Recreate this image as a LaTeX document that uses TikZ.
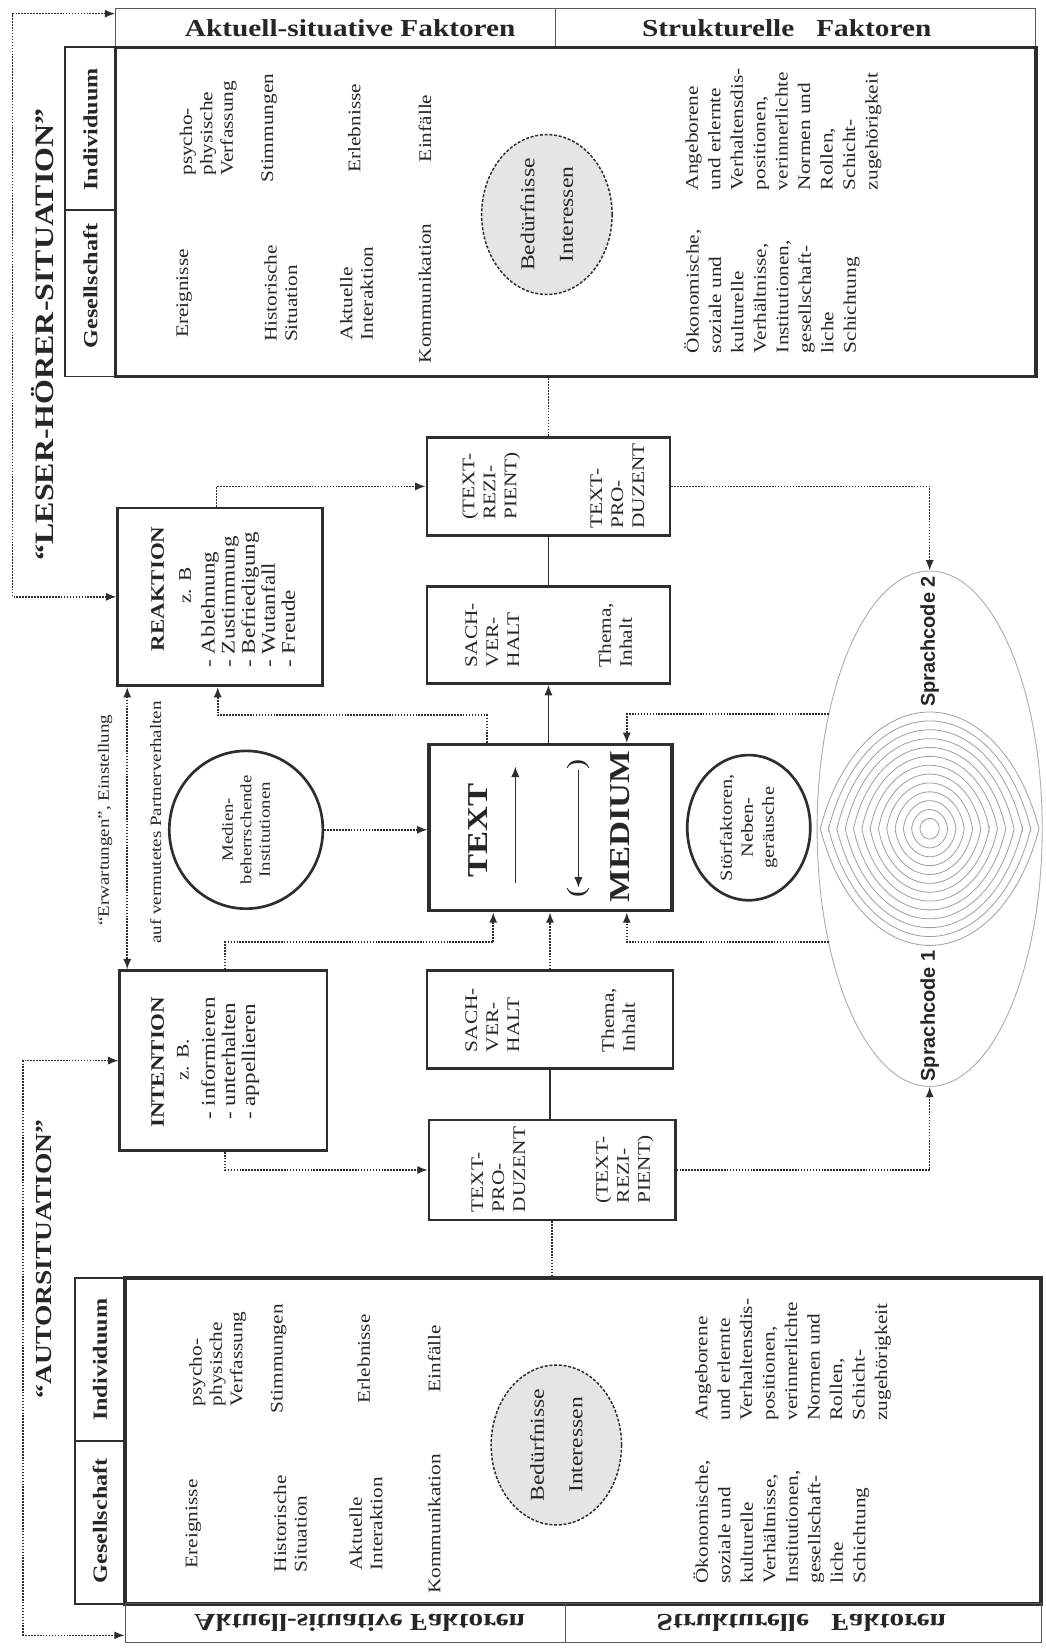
\documentclass[tikz,border=0pt]{standalone}
\usepackage{graphicx}
\usepackage{fontspec}
\setmainfont{Liberation Serif}[FakeStretch=1.2]
\newfontfamily\sprachf{Liberation Sans}
\usetikzlibrary{arrows.meta,fit,shapes.geometric,calc}
\definecolor{ink}{HTML}{262626}
\definecolor{lineg}{HTML}{2E2E2E}
\newcommand\fBody{\fontsize{12}{13.8}\selectfont}
\newcommand\fAng{\fontsize{12}{15.2}\selectfont}
\newcommand\fEll{\fontsize{13.3}{26}\selectfont}
\newcommand\fStrip{\bfseries\fontsize{13.6}{16}\selectfont}
\newcommand\fHead{\bfseries\fontsize{16.5}{19}\selectfont}
\newcommand\fTitle{\bfseries\fontsize{12.9}{15}\selectfont}
\newcommand\fItem{\fontsize{13}{13.6}\selectfont}
\newcommand\fBx{\fontsize{12}{14.2}\selectfont}
\newcommand\fBig{\bfseries\fontsize{19.5}{22}\selectfont}
\newcommand\fMed{\fontsize{10.6}{12.5}\selectfont}
\newcommand\fStoer{\fontsize{11.5}{14.2}\selectfont}
\newcommand\fErw{\fontsize{10.7}{12}\selectfont}
\newcommand\fSpr{\sprachf\bfseries\fontsize{13.5}{16}\selectfont}
\tikzset{
  every node/.style={text=ink},
  rt/.style={rotate=90, inner sep=0pt, align=left},
  rtc/.style={rotate=90, inner sep=0pt, align=center},
  flipped/.style={yscale=-1, transform shape, inner sep=0pt, font=\fHead},
  tip/.style={-{Latex[length=7pt,width=5.5pt]}},
  dtip/.style={{Latex[length=7pt,width=5.5pt]}-{Latex[length=7pt,width=5.5pt]}},
  dotc/.style={draw=lineg, line width=1.1pt, dash pattern=on 1.1pt off 0.9pt},
  thinl/.style={draw=lineg, line width=0.8pt},
  bigbox/.style={draw=lineg, line width=2.4pt, inner sep=0pt},
  midbox/.style={draw=lineg, line width=1.9pt, inner sep=0pt},
  stripbox/.style={draw=lineg, line width=1.2pt, inner sep=0pt},
  thinbox/.style={draw=gray!70!black, line width=0.7pt, inner sep=0pt},
  ring/.style={draw=gray!75, line width=0.55pt},
}
\newcommand\facbox[3]{%
\begin{scope}[shift={(#2,#3)}]
\node[rt, font=\fBody] (#1psy) at (198,122) {psycho-\\physische\\Verfassung};
\node[rt, font=\fBody] (#1sti) at (256,122) {Stimmungen};
\node[rt, font=\fBody] (#1erl) at (337,122) {Erlebnisse};
\node[rt, font=\fBody] (#1ein) at (404,122) {Einfälle};
\node[rt, font=\fBody] (#1ere) at (175,279) {Ereignisse};
\node[rt, font=\fBody] (#1his) at (267,279) {Historische\\Situation};
\node[rt, font=\fBody] (#1akt) at (339,279) {Aktuelle\\Interaktion};
\node[rt, font=\fBody] (#1kom) at (404,279) {Kommunikation};
\node[ellipse, draw=lineg, line width=1pt, dash pattern=on 2pt off 1.2pt, fill=gray!20, minimum width=3.1cm, minimum height=3.8cm, inner sep=0pt] (#1ell) at (520,204) {};
\node[rtc, font=\fEll] (#1bed) at (#1ell) {Bedürfnisse\\Interessen};
\node[rt, font=\fAng, anchor=west] (#1ang) at (745,181) {Angeborene\\und erlernte\\Verhaltensdis-\\positionen,\\verinnerlichte\\Normen und\\Rollen,\\Schicht-\\zugehörigkeit};
\node[rt, font=\fAng, anchor=west] (#1oek) at (734,336) {Ökonomische,\\soziale und\\kulturelle\\Verhältnisse,\\Institutionen,\\gesellschaft-\\liche\\Schichtung};
\end{scope}}
\begin{document}
\begin{tikzpicture}[x=0.025cm,y=-0.025cm]
\fill[white] (0,0) rectangle (994,1568);
\useasboundingbox (0,0) rectangle (994,1568);

% ---------- top section ----------
\node[thinbox, fit={(110,8)(985,45)}] (hdrT) {};
\draw[thinl, draw=gray!70!black, line width=0.7pt] (528,0 |- hdrT.north) -- (528,0 |- hdrT.south);
\node[font=\fHead, inner sep=0pt] (hT1) at (333,27) {Aktuell-situative Faktoren};
\node[font=\fHead, inner sep=0pt] (hT2) at (748,27) {Strukturelle\ \ \ Faktoren};
\node[stripbox, fit={(62,45)(110,358)}] (stT) {};
\draw[stripbox] (62,200) -- (110,200);
\node[bigbox, fit={(110,45)(985,358)}] (boxT) {};
\node[rt, font=\fStrip] (indT) at (86,123) {Individuum};
\node[rt, font=\fStrip] (gesT) at (86,272) {Gesellschaft};
\facbox{T}{0}{0}
\node[rt, font=\bfseries\fontsize{18}{20}\selectfont] (lhs) at (40,318) {“LESER-HÖRER-SITUATION”};

% ---------- bottom section ----------
\node[stripbox, fit={(71,1215)(119,1525)}] (stB) {};
\draw[stripbox] (71,1370) -- (119,1370);
\node[bigbox, fit={(119,1215)(990,1525)}] (boxB) {};
\node[rt, font=\fStrip] (indB) at (95,1293) {Individuum};
\node[rt, font=\fStrip] (gesB) at (95,1446) {Gesellschaft};
\facbox{B}{9}{1170}
\node[thinbox, fit={(119,1525)(990,1562)}] (hdrB) {};
\draw[thinl, draw=gray!70!black, line width=0.7pt] (538,0 |- hdrB.north) -- (538,0 |- hdrB.south);
\node[flipped] (hB1) at (342,1543) {Aktuell-situative Faktoren};
\node[flipped] (hB2) at (762,1543) {Strukturelle\ \ \ Faktoren};
\node[rt, font=\bfseries\fontsize{15.5}{18}\selectfont] (aus) at (42,1197) {“AUTORSITUATION”};

% ---------- REAKTION / INTENTION ----------
\node[midbox, fit={(112,483)(307,652)}] (R) {};
\node[rt, font=\fTitle] (Rt) at (150,560) {REAKTION};
\node[rt, font=\fBody] (Rz) at (176,557) {z. B};
\node[rt, font=\fItem, anchor=west] (Ri) at (236,635) {- Ablehnung\\- Zustimmung\\- Befriedigung\\- Wutanfall\\- Freude};

\node[midbox, fit={(114,923)(311,1094)}] (I) {};
\node[rt, font=\fTitle] (It) at (150,1010) {INTENTION};
\node[rt, font=\fBody] (Iz) at (174,1008) {z. B.};
\node[rt, font=\fItem, anchor=west] (Ii) at (219,1065) {- informieren\\- unterhalten\\- appellieren};

\node[rt, font=\fErw] (erw1) at (100,780) {“Erwartungen”, Einstellung};
\node[rt, font=\fErw] (erw2) at (148,782) {auf vermutetes Partnerverhalten};

\node[ellipse, draw=lineg, line width=1.8pt, minimum width=3.65cm, minimum height=3.75cm, inner sep=0pt] (M) at (234,789) {};
\node[rtc, font=\fMed] (Mt) at (M) {Medien-\\beherrschende\\Institutionen};

% ---------- central column ----------
\node[midbox, fit={(406,416)(637,509)}] (A) {};
\node[rt, font=\fBx] (a1) at (467,462) {(TEXT-\\REZI-\\PIENT)};
\node[rt, font=\fBx] (a2) at (587,462) {TEXT-\\PRO-\\DUZENT};
\node[midbox, fit={(406,558)(637,650)}] (B) {};
\node[rt, font=\fBx] (b1) at (468,604) {SACH-\\VER-\\HALT};
\node[rt, font=\fBx] (b2) at (585,604) {Thema,\\Inhalt};
\node[midbox, line width=2.2pt, fit={(408,708)(639,866)}] (T) {};
\node[rt, font=\fBig] (Tt) at (455,790) {TEXT};
\node[rt, font=\fBig] (Tm) at (590,786) {MEDIUM};
\coordinate (ta1) at (490,840);
\coordinate (ta2) at (490,729);
\draw[thinl, tip] (ta1) -- (ta2);
\node[rt, font=\fontsize{17}{17}\selectfont] (pl) at (550,849) {(};
\node[rt, font=\fontsize{17}{17}\selectfont] (pr) at (550,727) {)};
\draw[thinl, tip] (pr) -- (pl);
\node[midbox, fit={(406,923)(640,1016)}] (C) {};
\node[rt, font=\fBx] (c1) at (468,970) {SACH-\\VER-\\HALT};
\node[rt, font=\fBx] (c2) at (588,970) {Thema,\\Inhalt};
\node[midbox, fit={(408,1065)(642,1160)}] (D) {};
\node[rt, font=\fBx] (d1) at (474,1112) {TEXT-\\PRO-\\DUZENT};
\node[rt, font=\fBx] (d2) at (594,1112) {(TEXT-\\REZI-\\PIENT)};

\node[ellipse, draw=lineg, line width=1.8pt, minimum width=2.925cm, minimum height=3.45cm, inner sep=0pt] (S) at (712,787) {};
\node[rtc, font=\fStoer] (St) at (S) {Störfaktoren,\\Neben-\\geräusche};

% ---------- Sprachcode ----------
\node[ellipse, draw=gray!65, line width=0.6pt, minimum width=5.35cm, minimum height=12.25cm, inner sep=0pt] (SC) at (884,788) {};
\foreach \k in {0,...,12}{
  \pgfmathsetmacro\s{1-0.076*\k}
  \pgfmathsetmacro\dd{67*\s*\s}
  \pgfmathsetmacro\bb{111*\s+\dd}
  \pgfmathsetmacro\tz{asin(\dd/\bb)}
  \pgfmathsetmacro\aa{104*\s/cos(\tz)}
  \pgfmathsetmacro\te{180-\tz}
  \draw[ring] plot[domain=\tz:\te, samples=40] ({884+\aa*cos(\x)},{788+\dd-\bb*sin(\x)})
     -- plot[domain=\te:\tz, samples=40] ({884+\aa*cos(\x)},{788-\dd+\bb*sin(\x)}) -- cycle;
}
\node[rt, font=\fSpr] (sp2) at (884,610) {Sprachcode 2};
\node[rt, font=\fSpr] (sp1) at (884,966) {Sprachcode 1};
\coordinate (sc2) at (788,679);
\coordinate (sc1) at (788,896);

% ---------- connectors ----------
\draw[dotc] (A.north |- boxT.south) -- (A.north);
\draw[thinl] (A.south) -- (B.north);
\draw[thinl, tip] (B.south |- T.north) -- (B.south);
\draw[dotc, tip] (C.north) -- (C.north |- T.south);
\draw[thinl] (C.south) -- (C.south |- D.north);
\draw[dotc] (D.south) -- (D.south |- boxB.north);

\draw[dotc, tip] (463,0 |- T.north) -- (463,680) -| (207,0 |- R.south);
\draw[dotc, tip] (206,0 |- R.north) |- (A.west);
\draw[dotc, tip] (214,0 |- I.north) |- (469,896) -- (469,0 |- T.south);
\draw[dotc, tip] (214,0 |- I.south) |- (D.west);
\draw[dotc, tip] (M.east) -- (M.east -| T.west);
\draw[dotc, tip] (sc2) -| (596,0 |- T.north);
\draw[dotc, tip] (sc1) -| (596,0 |- T.south);
\draw[dotc, tip] (A.east) -| (SC.north);
\draw[dotc, tip] (D.east) -| (SC.south);
\draw[dotc, dtip] (121,0 |- R.south) -- (121,0 |- I.north);
\draw[dotc, dtip] (R.west) -| (12,13) -- (hdrT.west |- 12,13);
\draw[dotc, dtip] (I.west) -| (22,1555) -- (hdrB.west |- 22,1555);
\end{tikzpicture}
\end{document}
